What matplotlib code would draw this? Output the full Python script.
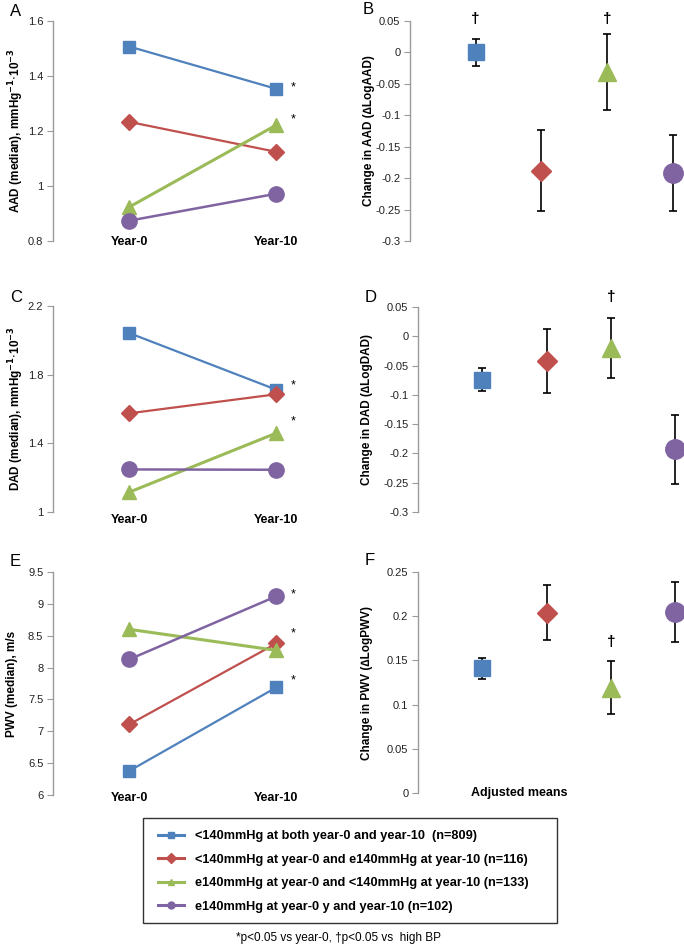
import matplotlib
matplotlib.use("Agg")
import matplotlib.pyplot as plt
from matplotlib.lines import Line2D
from matplotlib.patches import Rectangle

plt.rcParams['font.family'] = ['Liberation Sans', 'DejaVu Sans']

# ---------------- data ----------------
groups = ['<140mmHg at both year-0 and year-10  (n=809)',
          '<140mmHg at year-0 and e140mmHg at year-10 (n=116)',
          'e140mmHg at year-0 and <140mmHg at year-10 (n=133)',
          'e140mmHg at year-0 y and year-10 (n=102)']
colors = ['#4F81BD', '#C0504D', '#9BBB59', '#8064A2']
markers = ['s', 'D', '^', 'o']
years = ['Year-0', 'Year-10']

aad_y0 = [1.507, 1.233, 0.924, 0.874]
aad_y10 = [1.353, 1.124, 1.222, 0.972]
dad_y0 = [2.042, 1.575, 1.116, 1.248]
dad_y10 = [1.712, 1.686, 1.460, 1.246]
pwv_y0 = [6.38, 7.11, 8.60, 8.13]
pwv_y10 = [7.69, 8.38, 8.27, 9.12]

aad_star = [True, False, True, False]
dad_star = [True, False, True, False]
pwv_star = [True, True, False, True]

delta_aad = [0.000, -0.188, -0.031, -0.192]
err_aad = [0.021, 0.065, 0.060, 0.060]
delta_dad = [-0.074, -0.042, -0.020, -0.193]
err_dad = [0.020, 0.054, 0.051, 0.059]
delta_pwv = [0.141, 0.204, 0.119, 0.205]
err_pwv = [0.012, 0.031, 0.030, 0.034]

dag_aad = [True, False, True, False]
dag_dad = [False, False, True, False]
dag_pwv = [False, False, True, False]

# ---------------- figure ----------------
W, H = 684, 947
fig = plt.figure(figsize=(W / 100, H / 100), dpi=100)


def ax_px(l, t, r, b):
    return fig.add_axes([l / W, 1 - b / H, (r - l) / W, (b - t) / H])


GREY = '#9a9a9a'
lw_list = [1.6, 1.6, 2.2, 1.8]
ms_list = [9, 8, 10, 11]


def style(ax, ylim, yticks, fmt):
    ax.set_ylim(*ylim)
    ax.set_yticks(yticks)
    ax.set_yticklabels([fmt(v) for v in yticks], fontsize=8, color='#222222')
    for s in ['top', 'right', 'bottom']:
        ax.spines[s].set_visible(False)
    ax.spines['left'].set_color(GREY)
    ax.spines['left'].set_linewidth(1.0)
    ax.tick_params(axis='y', direction='out', length=4, color=GREY, pad=3)
    ax.set_xticks([])
    ax.patch.set_alpha(0)


def fmt_g(v):
    s = ('%.2f' % v).rstrip('0').rstrip('.')
    return s if s != '-0' else '0'


def set_ylabel_px(ax, text, xpx, left_px, width_px):
    ax.set_ylabel(text, fontsize=8.5, fontweight='bold')
    ax.yaxis.set_label_coords((xpx - left_px) / width_px, 0.5)
    ax.yaxis.label.set_va('center')


def line_panel(ax, y0, y10, stars, ylim, yticks, ylabel, yearlab_off, star_offs, lab_x):
    for i in range(4):
        ax.plot([0, 1], [y0[i], y10[i]], color=colors[i], lw=lw_list[i],
                marker=markers[i], ms=ms_list[i], clip_on=False, zorder=3)
        if stars[i]:
            ax.annotate('*', (1, y10[i]), xytext=(10, star_offs[i]),
                        textcoords='offset points', fontsize=9, ha='left', va='center')
    ax.set_xlim(-0.52, 1.5)
    style(ax, ylim, yticks, fmt_g)
    for x, lab in zip([0, 1], years):
        ax.annotate(lab, (x, 0), xycoords=ax.get_xaxis_transform(),
                    xytext=(0, yearlab_off), textcoords='offset points',
                    ha='center', va='center', fontsize=9, fontweight='bold')
    set_ylabel_px(ax, ylabel, lab_x, 53, 297)


def err_panel(ax, vals, errs, dags, ylim, yticks, ylabel, dag_y, xmax, lab_x, left, width):
    for i in range(4):
        ax.errorbar([i + 1], [vals[i]], yerr=[errs[i]], color='black', lw=1.2,
                    capsize=2.8, capthick=1.2, fmt='none', zorder=2, clip_on=False)
        ms = {'s': 12, 'D': 10, '^': 13, 'o': 14}[markers[i]]
        ax.plot([i + 1], [vals[i]], marker=markers[i], color=colors[i], ms=ms,
                ls='none', zorder=3, clip_on=False)
        if dags[i]:
            ax.text(i + 1, dag_y, '\u2020', ha='center', va='center',
                    fontsize=11, fontweight='bold', clip_on=False)
    ax.set_xlim(0, xmax)
    style(ax, ylim, yticks, fmt_g)
    set_ylabel_px(ax, ylabel, lab_x, left, width)


# Panel A
axA = ax_px(53, 21, 350, 241)
line_panel(axA, aad_y0, aad_y10, aad_star, (0.8, 1.6), [0.8, 1.0, 1.2, 1.4, 1.6],
           'AAD (median), mmHg$^{\\mathbf{-1}}$$\\cdot$10$^{\\mathbf{-3}}$', -1, [1, 0, 4, 0], 16)
# Panel C
axC = ax_px(53, 306, 350, 512)
line_panel(axC, dad_y0, dad_y10, dad_star, (1.0, 2.2), [1.0, 1.4, 1.8, 2.2],
           'DAD (median), mmHg$^{\\mathbf{-1}}$$\\cdot$10$^{\\mathbf{-3}}$', -6, [3, 0, 8, 0], 16)
# Panel E
axE = ax_px(53, 572, 350, 795)
line_panel(axE, pwv_y0, pwv_y10, pwv_star, (6.0, 9.5), [6, 6.5, 7, 7.5, 8, 8.5, 9, 9.5],
           'PWV (median), m/s', -2, [5, 7, 0, 1], 12)

# Panel B
axB = ax_px(410, 21, 684, 241)
err_panel(axB, delta_aad, err_aad, dag_aad, (-0.3, 0.05),
          [-0.3, -0.25, -0.2, -0.15, -0.1, -0.05, 0, 0.05],
          'Change in AAD (\u2206LogAAD)', 0.053, 4.17, 369, 410, 274)
# Panel D
axD = ax_px(418, 307, 684, 512)
err_panel(axD, delta_dad, err_dad, dag_dad, (-0.3, 0.05),
          [-0.3, -0.25, -0.2, -0.15, -0.1, -0.05, 0, 0.05],
          'Change in DAD (\u2206LogDAD)', 0.067, 4.14, 367, 418, 266)
# Panel F
axF = ax_px(418, 572, 684, 793)
err_panel(axF, delta_pwv, err_pwv, dag_pwv, (0, 0.25),
          [0, 0.05, 0.1, 0.15, 0.2, 0.25],
          'Change in PWV (\u2206LogPWV)', 0.171, 4.14, 367, 418, 266)
axF.text(0.38, 0.0, 'Adjusted means', transform=axF.transAxes, ha='center',
         va='center', fontsize=9, fontweight='bold')

# panel letters
for lab, (x, y) in zip('ABCDEF', [(10, 11), (363, 9), (10, 298), (365, 298), (10, 562), (365, 560)]):
    fig.text(x / W, 1 - y / H, lab, fontsize=12, ha='left', va='center')

# legend
fig.patches.append(Rectangle((143 / W, 1 - 923 / H), (557 - 143) / W, (923 - 818) / H,
                             transform=fig.transFigure, fill=False, edgecolor='#333333', lw=1.0))
handles = [Line2D([], [], color=colors[i], marker=markers[i], ms=5, lw=2.2) for i in range(4)]
fig.legend(handles, groups, loc='upper left', bbox_to_anchor=(158 / W, 1 - 830 / H),
           frameon=False, prop={'weight': 'bold', 'size': 9.2}, handlelength=2.0,
           handletextpad=0.9, labelspacing=0.9, borderaxespad=0, borderpad=0)

fig.text(338 / W, 1 - 938 / H, '*p<0.05 vs year-0, \u2020p<0.05 vs  high BP',
         ha='center', va='center', fontsize=8.5)

fig.savefig('out.png', dpi=100)
